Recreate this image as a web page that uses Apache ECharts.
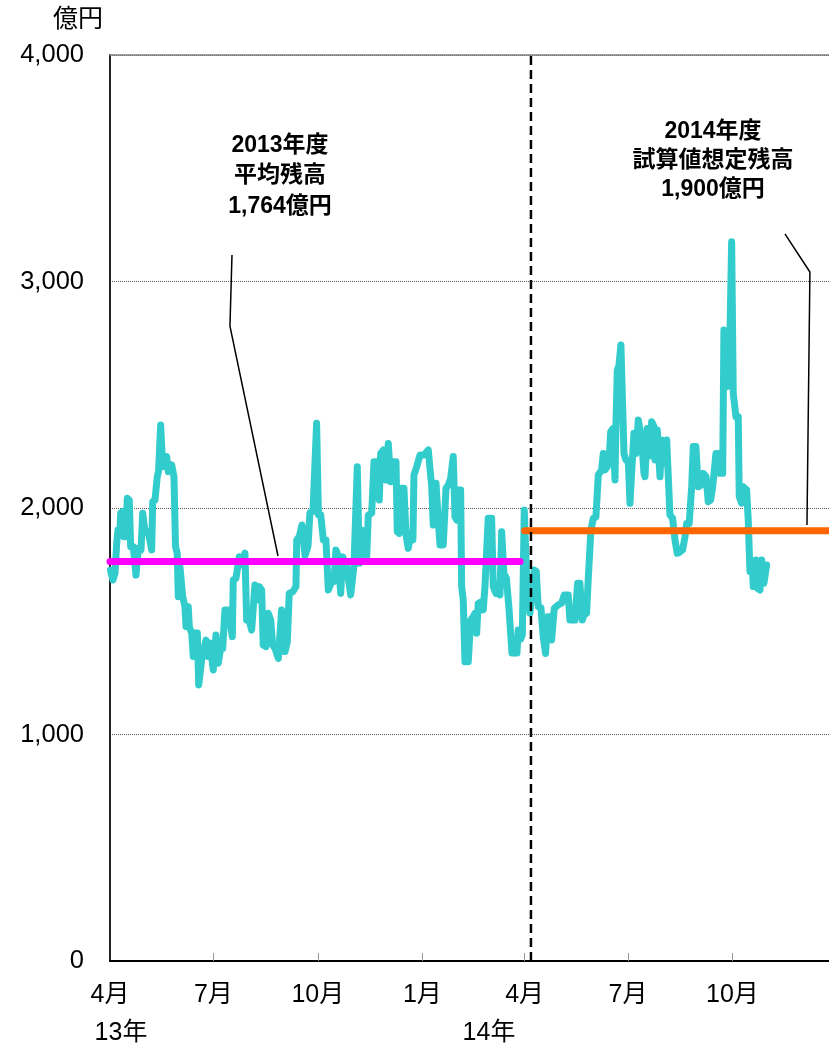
<!DOCTYPE html>
<html>
<head>
<meta charset="utf-8">
<script src="https://cdn.jsdelivr.net/npm/echarts@6/dist/echarts.min.js"></script>
<style>
html,body{margin:0;padding:0;background:#fff;}
#chart{width:829px;height:1045px;}
</style>
</head>
<body>
<div id="chart"></div>
<script>
// x = days since 2013-04-01
var days = [0.4,2.6,4.4,5.9,7.0,8.8,9.4,11.2,12.3,14.1,15.2,17.0,18.2,20.5,22.9,24.9,27.3,28.8,30.8,33.7,36.7,37.6,39.6,41.6,42.7,44.6,46.4,49.9,51.3,54.3,56.3,57.7,59.2,60.1,61.6,64.0,66.0,66.9,68.9,69.8,71.9,73.3,74.8,76.9,78.1,80.7,84.5,86.5,88.0,90.9,93.3,95.3,97.4,99.2,101.2,104.1,107.7,108.5,110.9,113.8,115.9,118.8,120.3,122.6,124.7,127.6,129.7,131.4,133.5,134.9,137.3,139.4,141.5,143.2,145.3,148.2,151.1,152.6,154.1,156.1,157.8,160.8,163.7,164.4,166.6,169.0,171.7,174.3,176.0,178.7,181.9,183.5,185.5,187.8,190.1,192.2,195.2,197.2,198.9,201.0,203.1,204.8,206.9,208.4,211.9,214.8,217.7,219.5,221.6,223.6,226.0,227.4,230.4,232.4,234.8,237.1,238.3,240.6,243.0,245.0,247.1,249.4,251.8,252.9,254.7,256.8,258.8,260.6,262.6,264.7,266.7,267.6,270.0,271.4,272.9,276.4,280.2,283.2,284.6,287.0,289.0,290.5,293.4,295.8,297.8,299.9,302.2,303.7,305.2,306.6,308.7,309.6,311.0,312.5,315.4,317.5,319.8,321.3,322.8,324.2,327.2,328.6,330.1,331.6,333.0,336.0,337.4,339.8,341.8,343.3,344.8,346.8,349.0,351.2,353.9,358.3,359.4,361.4,363.0,364.7,366.8,368.2,369.7,371.5,373.5,375.3,377.0,379.4,381.4,383.5,385.3,387.3,388.8,391.1,394.6,397.6,399.9,403.4,404.9,409.3,411.7,413.7,415.8,417.5,419.6,421.0,423.4,425.5,427.8,429.9,432.8,434.3,435.7,437.8,439.5,440.8,442.8,444.6,445.4,446.6,448.1,449.8,451.3,452.5,454.2,456.3,457.8,459.2,461.3,463.0,465.1,468.1,470.1,471.0,473.0,474.7,476.9,478.9,479.8,481.8,484.2,485.7,487.7,490.1,491.5,493.0,495.3,497.4,499.4,501.7,504.1,506.2,507.7,509.9,512.1,513.5,515.8,517.9,520.0,522.3,524.7,526.7,528.8,530.6,532.0,533.5,535.5,537.0,539.4,540.5,542.3,543.4,545.2,547.3,548.7,551.1,553.1,554.0,556.1,557.5,560.5,561.9,563.4,565.8,566.3,568.7,569.8,572.2,573.7,575.7,578.1];
var balance = [1726,1682,1712,1844,1903,1903,1977,1985,1873,1873,2043,2035,1829,1829,1704,1822,1815,1977,1895,1895,1815,2028,2035,2138,2160,2366,2182,2227,2160,2190,2138,1829,1800,1608,1740,1608,1564,1476,1564,1476,1448,1344,1448,1448,1219,1329,1417,1344,1404,1285,1439,1315,1380,1380,1550,1550,1432,1682,1690,1785,1750,1801,1505,1505,1461,1660,1594,1653,1638,1395,1388,1535,1505,1395,1380,1336,1550,1447,1366,1410,1623,1630,1653,1859,1873,1925,1790,1830,1978,1985,2374,1970,1970,1859,1859,1638,1675,1675,1815,1785,1623,1785,1756,1740,1616,1746,2182,1756,1903,1888,1785,1969,1977,2204,2204,2035,2241,2256,2124,2285,2116,2204,2204,1895,1888,2087,2087,1881,1822,1888,1859,2146,2182,2175,2234,2234,2256,2094,1925,2109,1947,1837,1837,2087,2101,2131,2227,1962,1947,2080,2080,1653,1594,1321,1321,1505,1520,1535,1447,1579,1586,1550,1653,1653,1955,1955,1653,1623,1668,1616,1895,1712,1690,1560,1360,1360,1461,1420,1440,1991,1697,1637,1536,1640,1726,1720,1564,1560,1432,1358,1520,1520,1417,1557,1572,1580,1616,1616,1505,1505,1668,1668,1505,1530,1535,1682,1903,1955,1960,2146,2168,2241,2168,2182,2220,2337,2351,2124,2359,2609,2630,2720,2720,2241,2212,2205,2021,2153,2330,2241,2389,2300,2153,2138,2351,2230,2381,2360,2212,2344,2138,2300,2197,2300,2300,1969,1955,1859,1800,1805,1815,1873,1932,1932,2094,2271,2271,2094,2100,2153,2140,2028,2035,2094,2090,2241,2241,2153,2153,2786,2770,2536,2600,3176,2506,2403,2403,2050,2021,2094,2080,1947,1719,1715,1653,1770,1646,1638,1770,1668,1748];

var avg2013 = 1764;   // 2013年度 平均残高
var plan2014 = 1900;  // 2014年度 試算値想定残高
var avg2013Span = [0, 361];
var plan2014Span = [365, 633];
var fyBoundaryDay = 370.6;

var tickDays = [0, 91, 183, 275, 365, 456, 548];
var tickLabels = ['4月', '7月', '10月', '1月', '4月', '7月', '10月'];
var yearLabels = ['13年', '14年'];

// leader lines (data units: [day, value])
var leader2013 = [[107.4, 3117], [105.6, 2803], [147.9, 1788]];
var leader2014 = [[594.2, 3210], [616.2, 3042], [613.6, 1925]];

var FONT = '"Liberation Sans", Arial, "Noto Sans CJK JP", sans-serif';

var lineData = days.map(function (d, i) { return [d, balance[i]]; });
var labelMap = {};
tickDays.forEach(function (d, i) { labelMap[d] = tickLabels[i]; });

var chart = echarts.init(document.getElementById('chart'), null, {renderer: 'canvas'});
chart.setOption({
  animation: false,
  backgroundColor: '#fff',
  grid: {left: 110, right: 0, top: 55, bottom: 84, containLabel: false},
  xAxis: [{
    type: 'value', min: 0, max: 633,
    axisLine: {show: true, lineStyle: {color: '#000', width: 2}},
    axisTick: {show: true, inside: true, length: 8, customValues: tickDays.slice(1), lineStyle: {color: '#999', width: 1}},
    axisLabel: {
      show: true, customValues: tickDays, margin: 22,
      fontSize: 25, color: '#000', fontFamily: FONT,
      formatter: function (v) { return labelMap[v] || ''; }
    },
    splitLine: {show: false}
  }, {
    type: 'value', min: 0, max: 633, position: 'top',
    axisLine: {show: true, onZero: false, lineStyle: {color: '#808080', width: 1.5}},
    axisTick: {show: false}, axisLabel: {show: false}, splitLine: {show: false}
  }],
  yAxis: {
    type: 'value', min: 0, max: 4000, interval: 1000,
    axisLine: {show: true, lineStyle: {color: '#222', width: 2}},
    axisTick: {show: false},
    axisLabel: {
      margin: 26, fontSize: 25.5, color: '#000', fontFamily: FONT,
      padding: [7, 0, 0, 0],
      formatter: function (v) { return v.toLocaleString('en-US'); }
    },
    splitLine: {show: true, lineStyle: {color: '#555', width: 1, type: [1, 1]}}
  },
  series: [
    {
      type: 'line', data: lineData, symbol: 'none', z: 2,
      lineStyle: {color: '#33CCCC', width: 7, join: 'round', cap: 'round'}
    },
    {
      type: 'line', data: [[avg2013Span[0], avg2013], [avg2013Span[1], avg2013]], symbol: 'none', z: 3,
      lineStyle: {color: '#FF00FF', width: 7, cap: 'round'}
    },
    {
      type: 'line', data: [[plan2014Span[0], plan2014], [plan2014Span[1], plan2014]], symbol: 'none', z: 3,
      lineStyle: {color: '#FF6600', width: 7, cap: 'round'}
    },
    {
      type: 'line', data: [[fyBoundaryDay, 0], [fyBoundaryDay, 4000]], symbol: 'none', z: 4,
      lineStyle: {color: '#000', width: 2.5, type: [9, 5]}
    },
    {
      type: 'line', data: leader2013, symbol: 'none', z: 5,
      lineStyle: {color: '#000', width: 1.5}
    },
    {
      type: 'line', data: leader2014, symbol: 'none', z: 5,
      lineStyle: {color: '#000', width: 1.5}
    }
  ],
  graphic: [
    {type: 'text', x: 78, y: 20, style: {text: '億円', fill: '#000', font: '25px ' + FONT, align: 'center', verticalAlign: 'middle'}},
    {type: 'text', x: 121, y: 1033, style: {text: yearLabels[0], fill: '#000', font: '25px ' + FONT, align: 'center', verticalAlign: 'middle'}},
    {type: 'text', x: 489, y: 1033, style: {text: yearLabels[1], fill: '#000', font: '25px ' + FONT, align: 'center', verticalAlign: 'middle'}},
    {type: 'text', x: 280, y: 176, style: {text: '2013年度\n平均残高\n1,764億円', fill: '#000', font: 'bold 23px ' + FONT, lineHeight: 30.5, align: 'center', verticalAlign: 'middle'}},
    {type: 'text', x: 713, y: 161, style: {text: '2014年度\n試算値想定残高\n1,900億円', fill: '#000', font: 'bold 23px ' + FONT, lineHeight: 29, align: 'center', verticalAlign: 'middle'}}
  ]
});
</script>
</body>
</html>
